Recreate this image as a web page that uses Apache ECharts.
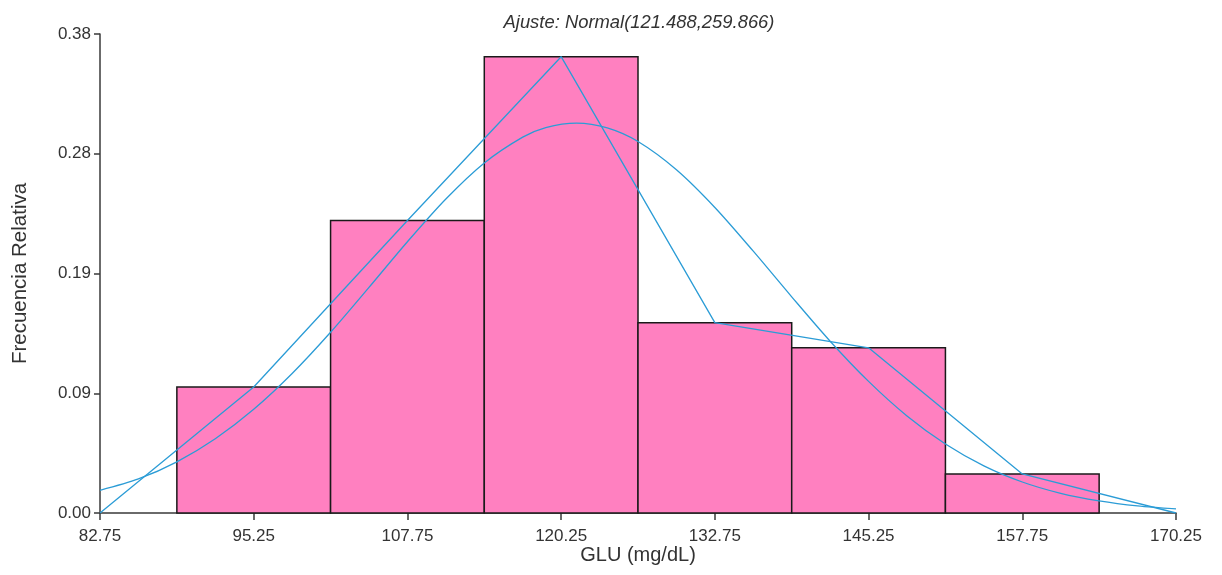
<!DOCTYPE html>
<html>
<head>
<meta charset="utf-8">
<script src="https://cdn.jsdelivr.net/npm/echarts@6/dist/echarts.min.js"></script>
<style>html,body{margin:0;padding:0;background:#fff}#c{width:1222px;height:575px}</style>
</head>
<body>
<div id="c"></div>
<script>
// Histogram bins (GLU mg/dL)
const binStart = [89.0, 101.5, 114.0, 126.5, 139.0, 151.5];
const binEnd   = [101.5, 114.0, 126.5, 139.0, 151.5, 164.0];
const relFreq  = [0.100, 0.232, 0.362, 0.151, 0.131, 0.031];

// Frequency polygon (class marks)
const polyX = [82.75, 95.25, 107.75, 120.25, 132.75, 145.25, 157.75, 170.25];
const polyY = [0, 0.100, 0.232, 0.362, 0.151, 0.131, 0.031, 0];

// Fitted normal curve
const curveX = [82.75, 85.875, 89.0, 92.125, 95.25, 98.375, 101.5, 104.625, 107.75, 110.875,
                114.0, 117.125, 119.0, 121.5, 124.0, 126.5, 129.625, 132.75, 135.875, 139.0, 142.125,
                145.25, 148.375, 151.5, 154.625, 157.75, 160.875, 164.0, 167.125, 170.25];
const curveY = [0.0180, 0.0270, 0.0406, 0.0589, 0.0823, 0.1107, 0.1434, 0.1790, 0.2152, 0.2491,
                0.2777, 0.2982, 0.3058, 0.3093, 0.3055, 0.2947, 0.2723, 0.2424, 0.2077, 0.1715, 0.1363,
                0.1044, 0.0770, 0.0547, 0.0374, 0.0246, 0.0156, 0.0096, 0.0056, 0.0032];

// Tick labels
const yTickLabels = ['0.00', '0.09', '0.19', '0.28', '0.38'];
const xTickLabels = ['82.75', '95.25', '107.75', '120.25', '132.75', '145.25', '157.75', '170.25'];

const titleText = 'Ajuste: Normal(121.488,259.866)';
const xName = 'GLU (mg/dL)';
const yName = 'Frecuencia Relativa';

const chart = echarts.init(document.getElementById('c'), null, {renderer: 'canvas'});
const axisColor = '#3a3a3a';
const font = 'Arial, "Liberation Sans", sans-serif';

const barData = binStart.map((s, i) => [s, binEnd[i], relFreq[i]]);

chart.setOption({
  animation: false,
  backgroundColor: '#fff',
  title: {
    text: titleText,
    left: 634, textAlign: 'center', top: 9,
    textStyle: {fontSize: 18.4, fontStyle: 'italic', fontWeight: 'normal', color: '#333', fontFamily: font}
  },
  grid: {left: 100, right: 46, top: 34, bottom: 62, containLabel: false, outerBoundsMode: 'none'},
  xAxis: {
    type: 'value', min: 82.75, max: 170.25, interval: 12.5,
    name: xName, nameLocation: 'middle', nameGap: 32, nameMoveOverlap: false,
    nameTextStyle: {fontSize: 20, color: '#333', fontFamily: font},
    axisLine: {show: true, onZero: false, lineStyle: {color: axisColor, width: 1.5}},
    axisTick: {show: true, length: 7, inside: false, lineStyle: {color: axisColor, width: 1.5}},
    axisLabel: {
      fontSize: 17, color: '#333', fontFamily: font, margin: 15,
      formatter: v => {
        const i = Math.round((v - 82.75) / 12.5);
        return xTickLabels[i] !== undefined ? xTickLabels[i] : '';
      }
    },
    splitLine: {show: false}
  },
  yAxis: {
    type: 'value', min: 0, max: 0.38, interval: 0.095,
    name: yName, nameLocation: 'middle', nameGap: 69, nameRotate: 90,
    nameTextStyle: {fontSize: 20.5, color: '#333', fontFamily: font},
    axisLine: {show: true, lineStyle: {color: axisColor, width: 1.5}},
    axisTick: {show: true, length: 6, lineStyle: {color: axisColor, width: 1.5}},
    axisLabel: {
      fontSize: 17, color: '#333', fontFamily: font, margin: 9,
      formatter: v => {
        const i = Math.round(v / 0.095);
        return yTickLabels[i] !== undefined ? yTickLabels[i] : '';
      }
    },
    splitLine: {show: false}
  },
  series: [
    {
      type: 'custom',
      data: barData,
      encode: {x: [0, 1], y: 2},
      renderItem: (params, api) => {
        const p0 = api.coord([api.value(0), api.value(2)]);
        const p1 = api.coord([api.value(1), 0]);
        return {
          type: 'rect',
          shape: {x: p0[0], y: p0[1], width: p1[0] - p0[0], height: p1[1] - p0[1]},
          style: {fill: '#FF80C0', stroke: '#1a1a1a', lineWidth: 1.5}
        };
      },
      z: 1
    },
    {
      type: 'line',
      data: polyX.map((x, i) => [x, polyY[i]]),
      showSymbol: false, symbol: 'none',
      lineStyle: {color: '#2B9CD6', width: 1.3},
      z: 3
    },
    {
      type: 'line',
      data: curveX.map((x, i) => [x, curveY[i]]),
      smooth: 0.3,
      showSymbol: false, symbol: 'none',
      lineStyle: {color: '#2B9CD6', width: 1.3},
      z: 3
    }
  ]
});
</script>
</body>
</html>
